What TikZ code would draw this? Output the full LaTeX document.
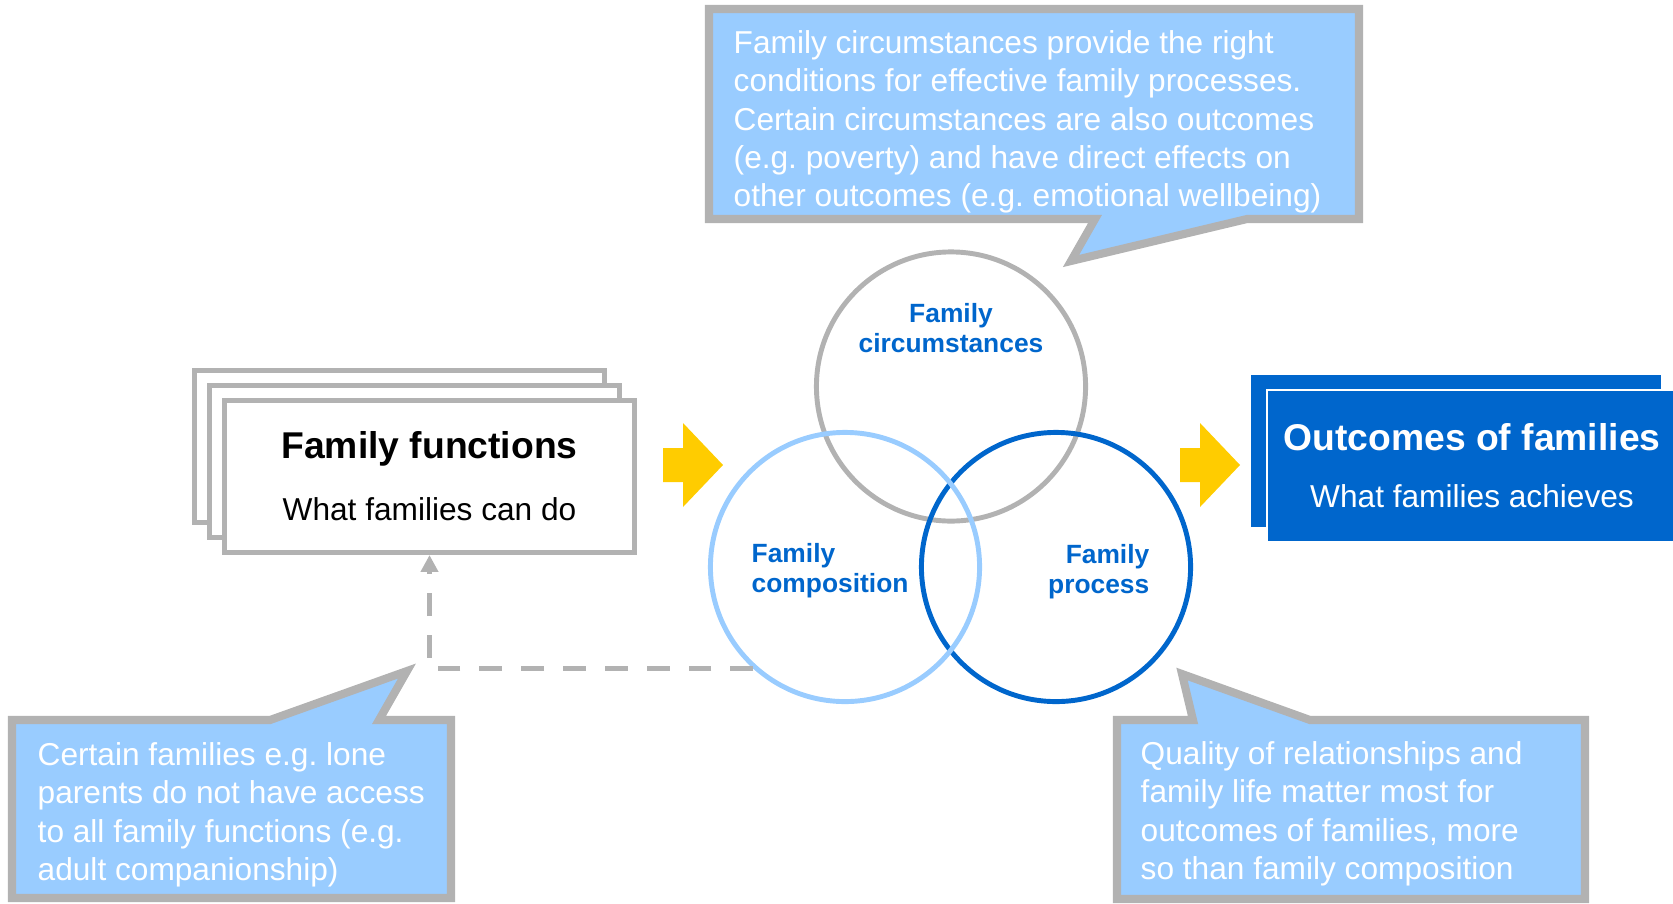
\documentclass[tikz,border=0pt]{standalone}
\usepackage{fontspec}
\setmainfont{Liberation Sans}
\frenchspacing
\definecolor{fcblue}{RGB}{0,102,204}
\definecolor{fclight}{RGB}{153,204,255}
\definecolor{fcgray}{RGB}{178,178,178}
\definecolor{fcyellow}{RGB}{255,204,0}
\usetikzlibrary{arrows.meta,positioning}

\begin{document}
\begin{tikzpicture}[x=0.01cm,y=-0.01cm,
  callout/.style={draw=fcgray,line width=2.3pt,fill=fclight,line join=miter},
  callouttext/.style={anchor=north west,align=left,inner sep=0pt,text=white,font=\fontsize{9}{10.9}\selectfont},
  stackbox/.style={draw=fcgray,line width=1.4pt,fill=white,minimum width=4.1cm,minimum height=1.52cm,inner sep=0pt},
  outbox/.style={fill=fcblue,minimum width=4.1cm,minimum height=1.52cm,inner sep=0pt},
  venn/.style={circle,line width=1.4pt,minimum size=2.69cm,inner sep=0pt},
  vennlabel/.style={inner sep=0pt,text=fcblue,font=\fontsize{7.5}{8.5}\selectfont\bfseries}]
  \useasboundingbox (0,0) rectangle (1673,903);
  % Callout shapes
  \draw[callout] (709,9) -- (1359,9) -- (1359,219) -- (1247,219) -- (1071,261) -- (1095,219) -- (709,219) -- cycle;
  \draw[callout] (12,720) -- (270,720) -- (407,671) -- (379,720) -- (451,720) -- (451,898) -- (12,898) -- cycle;
  \draw[callout] (1117,720) -- (1193,720) -- (1182,674) -- (1310,720) -- (1585,720) -- (1585,899) -- (1117,899) -- cycle;
  \node[callouttext] (ctop) at (733,30) {Family circumstances provide the right\\conditions for effective family processes.\\Certain circumstances are also outcomes\\(e.g. poverty) and have direct effects on\\other outcomes (e.g. emotional wellbeing)};
  \node[callouttext] (cleft) at (37,742) {Certain families e.g. lone\\parents do not have access\\to all family functions (e.g.\\adult companionship)};
  \node[callouttext] (cright) at (1140,741) {Quality of relationships and\\family life matter most for\\outcomes of families, more\\so than family composition};
  % Family functions (stacked)
  \foreach \k in {2,1}{
    \node[stackbox] (fback\k) at (429.5-15*\k,476.5-15*\k) {};
  }
  \node[stackbox,align=center,font=\fontsize{9}{10.8}\selectfont] (ffun) at (429.5,476.5)
    {{\fontsize{10.6}{12.7}\selectfont\bfseries Family functions}\\[6.8pt]What families can do};
  % Outcomes of families
  \node[outbox] (oback) at (1456,451) {};
  \node[outbox,draw=white,line width=0.5pt,text=white,align=center,font=\fontsize{9}{10.8}\selectfont] (outc) at (1472,466)
    {{\fontsize{10.6}{12.7}\selectfont\bfseries Outcomes of families}\\[5.4pt]What families achieves};
  % Yellow arrows
  \foreach \x in {663,1180}{
    \fill[fcyellow] (\x,448) -- (\x+20,448) -- (\x+20,423) -- (\x+60,465) -- (\x+20,507) -- (\x+20,482) -- (\x,482) -- cycle;
  }
  % Venn circles
  \node[venn,draw=fcgray] (circ) at (951,386.5) {};
  \node[venn,draw=fcblue] (proc) at (1056,567) {};
  \node[venn,draw=fclight] (comp) at (845,567) {};
  \node[vennlabel,anchor=north,align=center] (circlab) at (951,303) {Family\\circumstances};
  \node[vennlabel,anchor=north west,align=left] (complab) at (751,543) {Family\\composition};
  \node[vennlabel,anchor=north east,align=right] (proclab) at (1150,544) {Family\\process};
  % Dashed link to family functions
  \draw[fcgray,line width=1.4pt,dash pattern=on 6.5pt off 5.4pt,-{Triangle[length=4.8pt,width=4.8pt]}]
    (comp.228.7) -| (ffun.south);
\end{tikzpicture}
\end{document}
